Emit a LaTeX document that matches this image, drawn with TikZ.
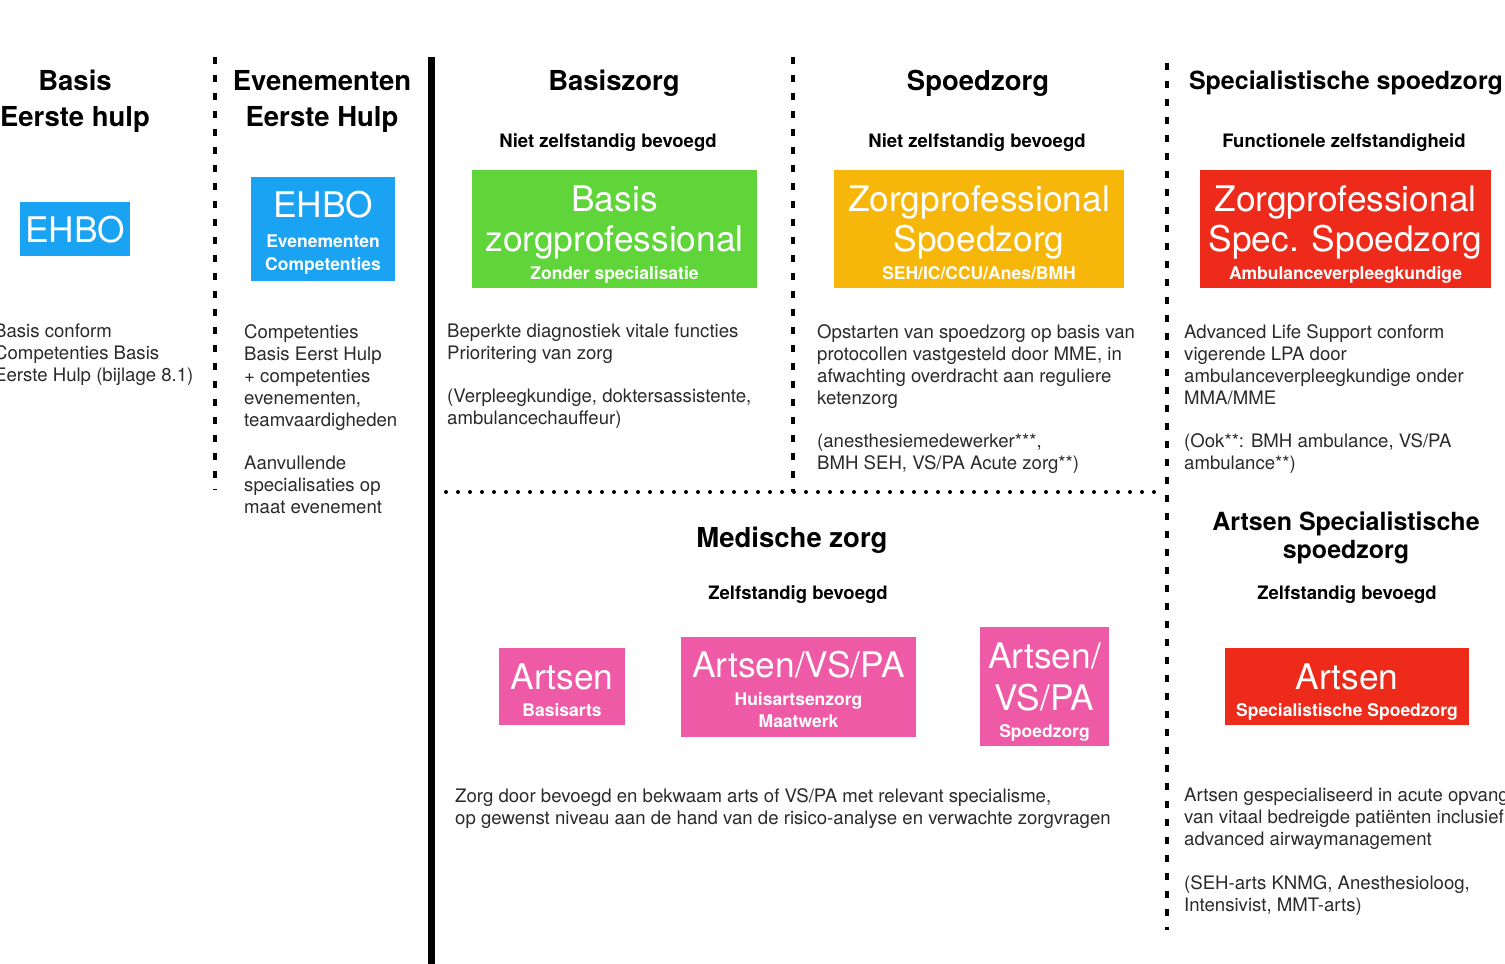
\documentclass[tikz,border=0pt]{standalone}
\usepackage{fontspec}
\setmainfont{TeX Gyre Heros}
\definecolor{txt}{HTML}{2A2A2A}
\definecolor{ehboblue}{HTML}{1AA3F2}
\definecolor{basisgreen}{HTML}{5FD53A}
\definecolor{spoedorange}{HTML}{F6B60A}
\definecolor{specred}{HTML}{EE2B1B}
\definecolor{artspink}{HTML}{EE5AA5}
\tikzset{
  sepline/.style={line width=4pt, dash pattern=on 7pt off 11pt},
  dotline/.style={line width=4pt, line cap=round, dash pattern=on 0pt off 12pt},
  colhead/.style={font=\bfseries\fontsize{27.5}{33}\selectfont, anchor=base, inner sep=0pt},
  colheadsm/.style={font=\bfseries\fontsize{25}{30}\selectfont, anchor=base, inner sep=0pt},
  subhead/.style={font=\bfseries\fontsize{18.5}{22}\selectfont, anchor=base, inner sep=0pt},
  body/.style={font=\fontsize{18.6}{22}\selectfont, anchor=north west, align=left, inner sep=0pt, text=txt},
  colbox/.style={fill=#1, draw=none, inner sep=0pt, anchor=north west},
  bigtxt/.style={font=\fontsize{35.3}{40}\selectfont, text=white, anchor=base, inner sep=0pt},
  smalltxt/.style={font=\bfseries\fontsize{17.5}{22}\selectfont, text=white, anchor=base, inner sep=0pt},
}
\begin{document}
\begin{tikzpicture}[x=1pt,y=-1pt]
\useasboundingbox (0,0) rectangle (1505,964);
\clip (0,0) rectangle (1505,964);

% separators
\coordinate (s1a) at (215,57);   \coordinate (s1b) at (215,490);
\coordinate (s2a) at (431,57);   \coordinate (s2b) at (431,964);
\coordinate (s3a) at (793,57);   \coordinate (s3b) at (793,492);
\coordinate (s4a) at (1167,63);  \coordinate (s4b) at (1167,930);
\coordinate (h1a) at (446,492);  \coordinate (h1b) at (1160,492);
\draw[sepline] (s1a) -- (s1b);
\draw[line width=7pt] (s2a) -- (s2b);
\draw[sepline] (s3a) -- (s3b);
\draw[sepline] (s4a) -- (s4b);
\draw[dotline] (h1a) -- (h1b);

% column headers
\node[colhead] (h1l1) at (75,90) {Basis};
\node[colhead] (h1l2) at (75,126) {Eerste hulp};
\node[colhead] (h2l1) at (322,90) {Evenementen};
\node[colhead] (h2l2) at (322,126) {Eerste Hulp};
\node[colhead] (h3) at (614,90) {Basiszorg};
\node[colhead] (h4) at (978,90) {Spoedzorg};
\node[colheadsm] (h5) at (1346,89) {Specialistische spoedzorg};

\node[subhead] (sh3) at (608,147.5) {Niet zelfstandig bevoegd};
\node[subhead] (sh4) at (977,147.5) {Niet zelfstandig bevoegd};
\node[subhead] (sh5) at (1344,147.5) {Functionele zelfstandigheid};

% top boxes
\node[colbox=ehboblue, minimum width=110pt, minimum height=54pt] (bx1) at (20,202) {};
\node[bigtxt] (bx1t) at (75,242) {EHBO};

\node[colbox=ehboblue, minimum width=144pt, minimum height=104pt] (bx2) at (251,177) {};
\node[bigtxt] (bx2t1) at (323,217) {EHBO};
\node[smalltxt] (bx2t2) at (323,247) {Evenementen};
\node[smalltxt] (bx2t3) at (323,270) {Competenties};

\node[colbox=basisgreen, minimum width=285pt, minimum height=118pt] (bx3) at (472,170) {};
\node[bigtxt] (bx3t1) at (614.5,211) {Basis};
\node[bigtxt] (bx3t2) at (614.5,251) {zorgprofessional};
\node[smalltxt] (bx3t3) at (614.5,279) {Zonder specialisatie};

\node[colbox=spoedorange, minimum width=290pt, minimum height=118pt] (bx4) at (834,170) {};
\node[bigtxt] (bx4t1) at (979,211) {Zorgprofessional};
\node[bigtxt] (bx4t2) at (979,251) {Spoedzorg};
\node[smalltxt] (bx4t3) at (979,279) {SEH/IC/CCU/Anes/BMH};

\node[colbox=specred, minimum width=291pt, minimum height=118pt] (bx5) at (1200,170) {};
\node[bigtxt] (bx5t1) at (1345.5,211) {Zorgprofessional};
\node[bigtxt] (bx5t2) at (1345.5,251) {Spec. Spoedzorg};
\node[smalltxt] (bx5t3) at (1345.5,279) {Ambulanceverpleegkundige};

% top body texts
\node[body] (b1) at (-6,324) {Basis conform\\Competenties Basis\\Eerste Hulp (bijlage 8.1)};
\node[body] (b2) at (244,324) {Competenties\\Basis Eerst Hulp\\+ competenties\\evenementen,\\teamvaardigheden\\[21pt]Aanvullende\\specialisaties op\\maat evenement};
\node[body] (b3) at (447,324) {Beperkte diagnostiek vitale functies\\Prioritering van zorg\\[21pt](Verpleegkundige, doktersassistente,\\ambulancechauffeur)};
\node[body] (b4) at (817,324) {Opstarten van spoedzorg op basis van\\protocollen vastgesteld door MME, in\\afwachting overdracht aan reguliere\\ketenzorg\\[21pt](anesthesiemedewerker***,\\BMH SEH, VS/PA Acute zorg**)};
\node[body] (b5) at (1184,324) {Advanced Life Support conform\\vigerende LPA door\\ambulanceverpleegkundige onder\\MMA/MME\\[21pt](Ook**: BMH ambulance, VS/PA\\ambulance**)};

% lower section
\node[colhead] (mz) at (792,547) {Medische zorg};
\node[subhead] (mzs) at (798,599.5) {Zelfstandig bevoegd};
\node[colheadsm] (as1) at (1346,530) {Artsen Specialistische};
\node[colheadsm] (as2) at (1346,558) {spoedzorg};
\node[subhead] (ass) at (1347,599.5) {Zelfstandig bevoegd};

\node[colbox=artspink, minimum width=126pt, minimum height=77pt] (p1) at (499,648) {};
\node[bigtxt] (p1t1) at (562,689) {Artsen};
\node[smalltxt] (p1t2) at (562,716) {Basisarts};

\node[colbox=artspink, minimum width=235pt, minimum height=100pt] (p2) at (681,637) {};
\node[bigtxt] (p2t1) at (798.5,677) {Artsen/VS/PA};
\node[smalltxt] (p2t2) at (798.5,705) {Huisartsenzorg};
\node[smalltxt] (p2t3) at (798.5,727) {Maatwerk};

\node[colbox=artspink, minimum width=129pt, minimum height=119pt] (p3) at (980,627) {};
\node[bigtxt] (p3t1) at (1044.5,668) {Artsen/};
\node[bigtxt] (p3t2) at (1044.5,710) {VS/PA};
\node[smalltxt] (p3t3) at (1044.5,737) {Spoedzorg};

\node[colbox=specred, minimum width=244pt, minimum height=77pt] (p4) at (1225,648) {};
\node[bigtxt] (p4t1) at (1347,689) {Artsen};
\node[smalltxt] (p4t2) at (1347,716) {Specialistische Spoedzorg};

\node[body] (b6) at (455,788) {Zorg door bevoegd en bekwaam arts of VS/PA met relevant specialisme,\\op gewenst niveau aan de hand van de risico-analyse en verwachte zorgvragen};
\node[body] (b7) at (1184,788) {Artsen gespecialiseerd in acute opvang\\van vitaal bedreigde patiënten inclusief\\advanced airwaymanagement\\[22pt](SEH-arts KNMG, Anesthesioloog,\\Intensivist, MMT-arts)};
\end{tikzpicture}
\end{document}
